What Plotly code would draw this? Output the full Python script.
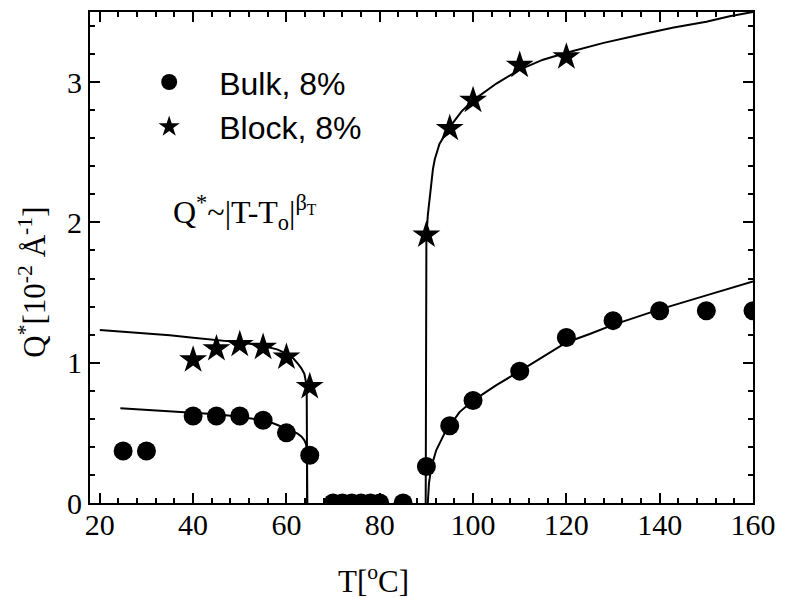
import plotly.graph_objects as go

# Measured peak position Q* (10^-2 1/Å) versus temperature T (°C)
bulk_T = [25, 30, 40, 45, 50, 55, 60, 65, 70, 72, 74, 76, 78, 80, 85,
          90, 95, 100, 110, 120, 130, 140, 150, 160]
bulk_Q = [0.37, 0.37, 0.62, 0.62, 0.62, 0.59, 0.50, 0.34, 0, 0, 0, 0, 0, 0, 0,
          0.26, 0.55, 0.73, 0.94, 1.18, 1.30, 1.37, 1.37, 1.37]

block_T = [40, 45, 50, 55, 60, 65, 90, 95, 100, 110, 120]
block_Q = [1.02, 1.10, 1.13, 1.11, 1.04, 0.83, 1.91, 2.67, 2.87, 3.12, 3.18]

# Power-law fit curves Q* ~ |T - To|^beta (sampled along each branch)
fit_block_low_T = [20, 25, 30, 35, 40, 45, 50, 55, 58, 60, 61.5, 62.4, 63.2,
                   63.85, 64.2, 64.35, 64.4, 64.45]
fit_block_low_Q = [1.234, 1.222, 1.21, 1.195, 1.178, 1.162, 1.145, 1.12, 1.095,
                   1.065, 1.03, 0.995, 0.96, 0.92, 0.86, 0.78, 0.55, 0]

fit_bulk_low_T = [24.4, 30, 38.4, 45, 50, 55, 57, 59, 60.5, 62.4, 63.2, 63.85,
                  64.2, 64.35, 64.42, 64.45]
fit_bulk_low_Q = [0.676, 0.665, 0.648, 0.632, 0.615, 0.59, 0.57, 0.546, 0.524,
                  0.494, 0.474, 0.447, 0.42, 0.385, 0.3, 0]

fit_block_high_T = [89.85, 89.9, 90.0, 90.3, 90.7, 91.1, 91.4, 91.8, 92.8, 95,
                    97.5, 100, 105, 110, 115, 120, 128, 136, 143, 150, 155, 160]
fit_block_high_Q = [0, 1.2, 1.9, 2.05, 2.17, 2.3, 2.38, 2.45, 2.56, 2.68, 2.79,
                    2.87, 2.99, 3.09, 3.16, 3.21, 3.28, 3.34, 3.39, 3.43, 3.47, 3.50]

fit_bulk_high_T = [90.3, 90.55, 91.06, 92.1, 93.2, 94.2, 95, 97.1, 100, 105,
                   110, 115, 120, 125, 130, 135, 140, 150, 160]
fit_bulk_high_Q = [0, 0.14, 0.257, 0.376, 0.45, 0.518, 0.55, 0.648, 0.73, 0.84,
                   0.94, 1.045, 1.144, 1.205, 1.27, 1.325, 1.38, 1.48, 1.58]

x_ticks = [20, 40, 60, 80, 100, 120, 140, 160]
y_ticks = [0, 1, 2, 3]

SERIF = "Liberation Serif, Times New Roman, serif"
SANS = "Liberation Sans, Arial, sans-serif"

fig = go.Figure()

line_style = dict(color="black", width=2)
for tx, qy in [(fit_block_low_T, fit_block_low_Q), (fit_bulk_low_T, fit_bulk_low_Q),
               (fit_block_high_T, fit_block_high_Q), (fit_bulk_high_T, fit_bulk_high_Q)]:
    fig.add_trace(go.Scatter(x=tx, y=qy, mode="lines", line=line_style,
                             showlegend=False, hoverinfo="skip"))

fig.add_trace(go.Scatter(
    x=block_T, y=block_Q, mode="markers", name="Block, 8%", legendgroup="b",
    marker=dict(symbol="star", size=21, color="black", line=dict(width=0)),
))
fig.add_trace(go.Scatter(
    x=bulk_T, y=bulk_Q, mode="markers", name="Bulk, 8%", legendgroup="a",
    marker=dict(symbol="circle", size=19, color="black", line=dict(width=0)),
))

axis_common = dict(
    showline=True, linecolor="black", linewidth=2, mirror="allticks",
    ticks="inside", ticklen=10, tickwidth=2, tickcolor="black",
    showgrid=False, zeroline=False,
    tickfont=dict(family=SERIF, size=30, color="black"),
)

fig.update_xaxes(range=[17.9, 160], tickvals=x_ticks, ticklabelstandoff=-6,
                 minor=dict(ticks="inside", ticklen=5, tickwidth=2,
                            tickcolor="black", dtick=4, tick0=0, showgrid=False),
                 **axis_common)
fig.update_yaxes(range=[0, 3.5], tickvals=y_ticks,
                 minor=dict(ticks="inside", ticklen=5, tickwidth=2,
                            tickcolor="black", dtick=0.2, tick0=0, showgrid=False),
                 **axis_common)

fig.add_annotation(
    text="T[<sup>o</sup>C]", xref="paper", yref="paper", x=0.428, y=-0.155,
    showarrow=False, font=dict(family=SERIF, size=31, color="black"),
    xanchor="center", yanchor="middle",
)
fig.add_annotation(
    text="Q<sup>*</sup>[10<sup>-2</sup> Å<sup>-1</sup>]", xref="paper", yref="paper",
    x=-0.088, y=0.45, textangle=-90, showarrow=False,
    font=dict(family=SERIF, size=31, color="black"),
    xanchor="center", yanchor="middle",
)
fig.add_annotation(
    text="Q<sup>*</sup>~|T-T<sub>o</sub>|<sup>β<sub>T</sub></sup>",
    xref="paper", yref="paper", x=0.122, y=0.592, showarrow=False,
    font=dict(family=SERIF, size=32, color="black"),
    xanchor="left", yanchor="middle",
)

fig.update_layout(
    width=786, height=598,
    margin=dict(l=90, r=26, t=10, b=95),
    paper_bgcolor="white", plot_bgcolor="white",
    showlegend=True,
    legend=dict(
        x=0.044, y=0.913, xanchor="left", yanchor="top",
        font=dict(family=SANS, size=32, color="black"),
        bgcolor="rgba(0,0,0,0)", borderwidth=0,
        traceorder="reversed", itemwidth=90, tracegroupgap=10,
    ),
)

fig.write_html("out.html")
